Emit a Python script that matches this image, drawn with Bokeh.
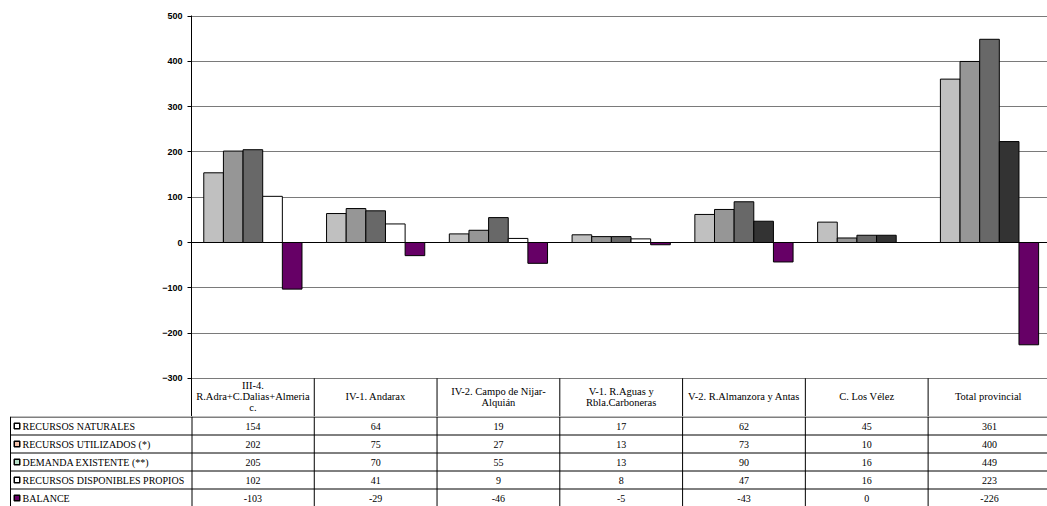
from bokeh.plotting import figure
from bokeh.layouts import column
from bokeh.models import Range1d, FixedTicker, Span
from bokeh.core.properties import value
from bokeh.embed import file_html
from bokeh.resources import INLINE

# ---------------- data ----------------
categories = [
    "III-4.\nR.Adra+C.Dalias+Almeria\nc.",
    "IV-1. Andarax",
    "IV-2. Campo de Nijar-\nAlquián",
    "V-1. R.Aguas y\nRbla.Carboneras",
    "V-2. R.Almanzora y Antas",
    "C. Los Vélez",
    "Total  provincial",
]
series_names = [
    "RECURSOS NATURALES",
    "RECURSOS UTILIZADOS (*)",
    "DEMANDA EXISTENTE (**)",
    "RECURSOS DISPONIBLES PROPIOS",
    "BALANCE",
]
recursos_naturales = [154, 64, 19, 17, 62, 45, 361]
recursos_utilizados = [202, 75, 27, 13, 73, 10, 400]
demanda_existente = [205, 70, 55, 13, 90, 16, 449]
recursos_disponibles = [102, 41, 9, 8, 47, 16, 223]
balance = [-103, -29, -46, -5, -43, 0, -226]
y_ticks = [-300, -200, -100, 0, 100, 200, 300, 400, 500]

series_values = [recursos_naturales, recursos_utilizados, demanda_existente,
                 recursos_disponibles, balance]

# ---------------- styles ----------------
bar_colors = [
    ["#c0c0c0"] * 7,
    ["#969696"] * 7,
    ["#686868"] * 7,
    ["#ffffff"] * 4 + ["#333333"] * 3,
    ["#660066"] * 7,
]
key_colors = ["#ffffff", "#f4c0a8", "#b8e0c8", "#ffffff", "#660066"]

W = 1047
FL = 191
PXC = 122.77
XE = -0.5 + (W - FL) / PXC
H1 = 416
TOP = 15
K = 0.4526
YE = 500 + 0.7 / K
YS = YE - (H1 - TOP) / K
BW = 0.16

# ---------------- chart ----------------
p = figure(width=W, height=H1, x_range=Range1d(-0.5, XE), y_range=Range1d(YS, YE),
           output_backend="svg", toolbar_location=None, x_axis_location=None,
           min_border_left=FL, min_border_right=0, min_border_top=TOP, min_border_bottom=0,
           outline_line_color=None, background_fill_color="white")
p.frame_align = False
p.xgrid.visible = False
p.ygrid.ticker = FixedTicker(ticks=y_ticks)
p.ygrid.grid_line_color = "#7a7a7a"
p.ygrid.grid_line_width = 1

ax = p.yaxis[0]
ax.ticker = FixedTicker(ticks=y_ticks)
ax.major_label_text_font = "Liberation Sans"
ax.major_label_text_font_style = "bold"
ax.major_label_text_font_size = "9px"
ax.major_label_text_color = "black"
ax.major_tick_out = 4
ax.major_tick_in = 0
ax.minor_tick_out = 0
ax.minor_tick_in = 0
ax.axis_line_color = "black"
ax.major_tick_line_color = "black"
ax.major_label_standoff = 5

p.add_layout(Span(location=0, dimension="width", line_color="black", line_width=1,
                  level="underlay"))

n = len(categories)
for s, vals in enumerate(series_values):
    xs = [i + (s - 2) * BW for i in range(n)]
    p.vbar(x=xs, top=vals, bottom=0, width=BW, fill_color=bar_colors[s],
           line_color="black", line_width=1)

# header cells of the data table (below -300)
hx = [i - 0.5 for i in range(1, n)]
p.segment(x0=hx, y0=[-300] * len(hx), x1=hx, y1=[YS] * len(hx), line_color="black", line_width=1)
p.text(x=list(range(n)), y=[(-300 + YS) / 2 + 1] * n, text=categories,
       text_align="center", text_baseline="middle",
       text_font=value("Liberation Serif"), text_font_size="10.5px",
       text_line_height=1.0, text_color="black")

# ---------------- table ----------------
H2 = 90
RH = 18
b = figure(width=W, height=H2, x_range=Range1d(-0.5 - FL / PXC, XE), y_range=Range1d(H2, 0),
           output_backend="svg", toolbar_location=None, x_axis_location=None,
           y_axis_location=None, min_border=0, outline_line_color=None)
b.frame_align = False
b.grid.visible = False

xl = -0.5 - (FL - 10) / PXC
rows_y = [0.5 + RH * r for r in range(5)]
b.segment(x0=[xl] * 5, y0=rows_y, x1=[XE] * 5, y1=rows_y, line_color="black", line_width=1)
vx = [xl, -0.5 + 0.5 / PXC] + hx
b.segment(x0=vx, y0=[0] * len(vx), x1=vx, y1=[H2] * len(vx), line_color="black", line_width=1)

centers = [0.5 + RH * r + RH / 2 for r in range(5)]
xkey = -0.5 - (FL - 16.5) / PXC
xlab = -0.5 - (FL - 22) / PXC
b.rect(x=[xkey] * 5, y=centers, width=5.5, height=5.5, width_units="screen",
       height_units="screen", fill_color=key_colors, line_color="black", line_width=1.5)
b.text(x=[xlab] * 5, y=centers, text=series_names, text_align="left", text_baseline="middle",
       text_font=value("Liberation Serif"), text_font_size="10px", text_color="black")
for r, vals in enumerate(series_values):
    b.text(x=list(range(n)), y=[centers[r]] * n, text=[str(v) for v in vals],
           text_align="center", text_baseline="middle",
           text_font=value("Liberation Serif"), text_font_size="10px", text_color="black")

layout = column(p, b, spacing=0)
open("out.html", "w").write(file_html(layout, INLINE))
